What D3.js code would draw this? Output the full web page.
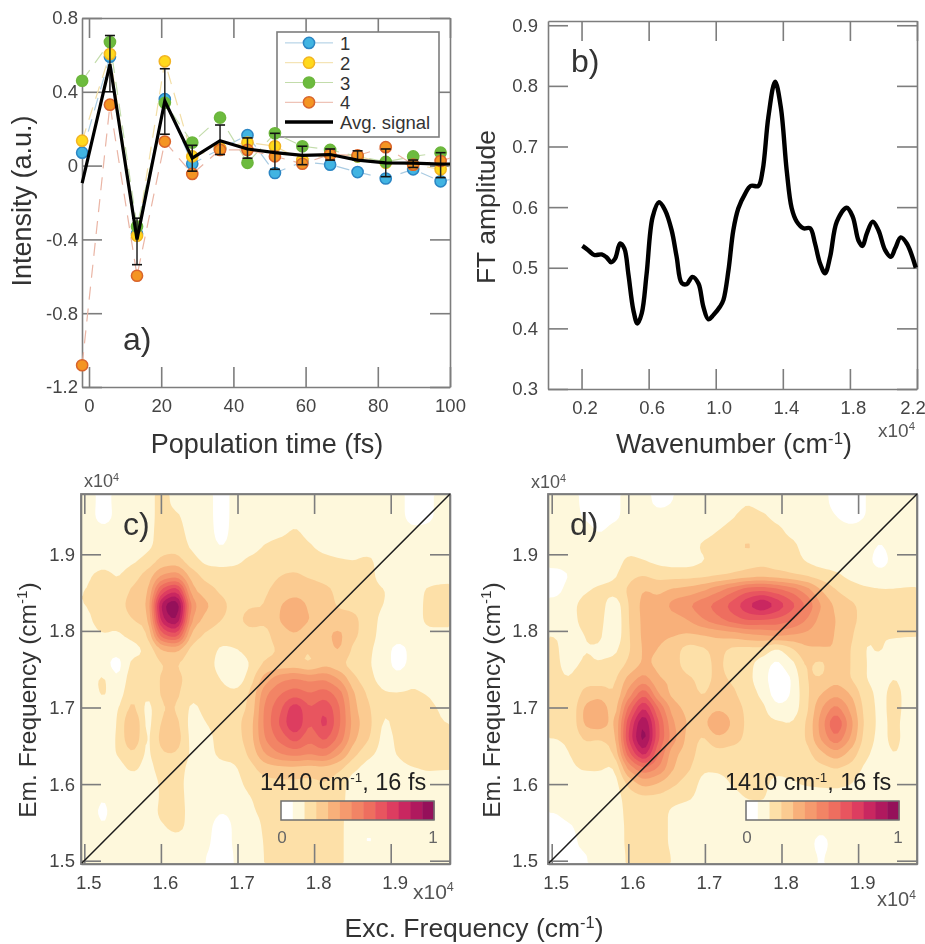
<!DOCTYPE html>
<html>
<head>
<meta charset="utf-8">
<script src="https://cdn.jsdelivr.net/npm/d3@7"></script>
<style>
html, body { margin: 0; padding: 0; background: #fff; }
svg { display: block; filter: blur(0.5px); }
text { font-family: "Liberation Sans", Arial, sans-serif; fill: #333; }
.tick text { fill: #444; }
.axis line, .axis path { stroke: #7d7d7d; stroke-width: 1.6; }
</style>
</head>
<body>
<svg id="chart" width="925" height="944"></svg>
<script>
// panel a
var timeFs = [-1.9, 5.8, 13.3, 21, 28.6, 36.3, 43.9, 51.5, 59.1, 66.8, 74.4, 82.2, 89.8, 97.4, 105];
var series1 = [0.07, 0.59, -0.37, 0.36, 0.01, 0.09, 0.165, -0.04, 0.02, 0.005, -0.035, -0.07, -0.02, -0.085, -0.06];
var series2 = [0.135, 0.605, -0.38, 0.565, 0.05, 0.095, 0.125, 0.105, 0.03, 0.06, 0.05, 0.015, 0.005, -0.02, 0.02];
var series3 = [0.46, 0.67, -0.33, 0.34, 0.125, 0.26, 0.015, 0.175, 0.105, 0.085, 0.05, 0.02, 0.05, 0.07, 0.08];
var series4 = [-1.082, 0.33, -0.597, 0.13, -0.045, 0.085, 0.085, 0.05, 0.01, 0.06, 0.055, 0.1, 0.005, 0.025, 0.07];
var avgSignal = [-0.095, 0.55, -0.4, 0.35, 0.04, 0.135, 0.09, 0.07, 0.055, 0.06, 0.03, 0.015, 0.013, 0.008, 0.01];
var errTop = [null, 0.705, -0.285, 0.525, 0.11, 0.22, 0.15, 0.175, 0.105, 0.09, 0.08, 0.09, 0.03, 0.07, null];
var errBottom = [null, 0.4, -0.537, 0.17, -0.03, 0.06, 0.04, -0.02, 0.005, 0.03, 0.03, -0.06, -0.01, -0.065, null];
var seriesNames = ["1", "2", "3", "4"];

// panel b
var waveX = [0.205, 0.24, 0.276, 0.32, 0.35, 0.376, 0.4, 0.43, 0.455, 0.479, 0.509, 0.533, 0.559, 0.588, 0.624, 0.662, 0.698, 0.737, 0.767, 0.797, 0.827, 0.861, 0.897, 0.926, 0.956, 0.986, 1.026, 1.046, 1.076, 1.105, 1.135, 1.175, 1.209, 1.254, 1.28, 1.314, 1.354, 1.388, 1.423, 1.453, 1.483, 1.523, 1.563, 1.592, 1.622, 1.652, 1.682, 1.722, 1.781, 1.817, 1.851, 1.875, 1.9, 1.936, 1.97, 2.01, 2.044, 2.07, 2.103, 2.139, 2.193];
var ftAmp = [0.536, 0.529, 0.521, 0.522, 0.517, 0.509, 0.515, 0.54, 0.532, 0.49, 0.43, 0.408, 0.425, 0.49, 0.584, 0.608, 0.595, 0.562, 0.518, 0.475, 0.473, 0.485, 0.474, 0.436, 0.415, 0.422, 0.436, 0.447, 0.496, 0.562, 0.598, 0.622, 0.635, 0.635, 0.661, 0.749, 0.807, 0.765, 0.661, 0.598, 0.576, 0.565, 0.565, 0.54, 0.507, 0.491, 0.518, 0.576, 0.599, 0.584, 0.545, 0.536, 0.556, 0.576, 0.562, 0.529, 0.518, 0.532, 0.55, 0.54, 0.5];

// panels c and d, contour level per cell (0-12 along the colour bar), top row first
var mapC = [
[1.5,.5,1.4,1.4,1.5,2.5,1.5,1.4,1.4,.5,1.4,1.4,1.4,1.4,1.4,1.4,1.4,1.4,1.4,1.4,1.4,1.3,.6,.8,1.3],
[1.4,.5,1.3,1.4,1.5,2.5,2.2,1.4,1.4,.5,1.4,1.4,1.4,1.4,1.4,1.4,1.4,1.4,1.4,1.4,1.4,1.3,.6,.8,1.3],
[1.4,1.3,1.4,1.4,1.6,2.5,2.4,1.6,1.4,.6,1.4,1.4,1.4,1.6,2.2,1.5,1.4,1.4,1.4,1.4,1.4,1.4,1.2,1.2,1.3],
[1.4,1.4,1.4,1.4,1.7,2.5,2.6,1.8,1.4,.9,1.4,1.6,2.1,2.5,2.7,2.1,1.6,1.4,1.4,1.4,1.4,1.4,1.4,1.4,1.4],
[1.4,1.5,1.4,1.8,2.3,3.3,3.4,2.3,1.7,1.6,1.8,2.2,2.4,2.7,2.7,2.5,2.3,2.1,2,2.3,1.4,1.4,1.4,1.4,1.4],
[1.9,2.4,1.9,2.6,3.4,5,5.5,3.5,2.6,2.5,2.4,2.6,2.7,3,3.1,2.9,2.7,2.7,2.5,2.4,1.4,1.4,1.4,1.4,1.6],
[2,2.5,2.2,3.2,3.6,8.5,10,4.2,3.4,2.8,2.6,2.6,2.9,3.3,3.5,3.4,3.2,2.8,2.6,2.4,2.1,1.4,1.4,2.2,2.3],
[2,2.4,2.4,3.7,3.8,12,13.5,5.5,4.2,3.3,2.6,2.9,3,4,4.7,3.8,3.5,2.8,2.8,2.5,2,1.5,1.4,2.3,2.4],
[1.9,2.3,2.2,3,3.4,11,12.5,4.8,3.6,3,2.7,3.5,3.1,4.1,4.7,4,3.6,3.5,3.2,2.6,1.6,1.8,1.4,2.3,2.3],
[1.8,2,1.9,2.3,2.8,8,9,3.5,2.8,2.5,2.4,2.6,2.7,3.6,4,3.4,3.8,4.3,3.2,2.5,1.5,1.5,1.4,1.7,1.7],
[1.5,1.4,1.3,1.6,2.2,4,4.2,2.6,2.5,1.8,2,2.6,2.7,3.1,3.1,3,3.6,4.2,2.7,2.2,1.4,.6,1.3,1.4,1.4],
[1.4,1.3,.5,2.4,2,3,3,2.3,2.4,1.6,.7,2.1,3.2,3.2,3.3,2.8,3.7,3.2,2.4,2.1,1.4,.6,1.3,1.5,1.4],
[1.5,2.3,.9,2.8,2.1,3.2,3.4,2.4,2.4,2,1.2,2.6,4.6,5.8,6.2,5.8,6,5,3.2,2.3,1.5,1.3,1.9,1.5,1.4],
[1.5,2.2,1.4,3,2,3.2,3.2,2.2,2.5,2.3,2.3,3.1,5.9,7,7.6,7,7.6,6.6,4,2.8,2.1,2.1,2.1,2,1.6],
[1.4,1.5,1.9,3.4,1.5,3,3,1.7,2.3,2.6,2.6,3.2,6.4,7.8,10,8,9,7.2,4.2,3.1,2.1,2.1,2.2,2.2,1.9],
[1.3,1.3,2,4.4,1.5,3.2,3.3,1.5,2,2.6,2.7,3.6,6.4,8.2,10.4,7.8,9.6,7.2,4.5,3.3,1.8,2.3,2.5,2.3,2],
[1.3,1.3,2.1,4.2,1.6,3.5,3.6,1.6,1.5,2.6,2.6,3.6,6.2,7.4,8.6,7.2,8.4,6.8,4.2,3.1,1.6,2.2,2.5,2.4,2.1],
[1.2,1.4,2.1,3,1.7,3,3,1.8,1.6,2.3,2.3,3.3,5.2,6.2,6.6,6.2,6.7,5.2,3.3,2.3,1.6,2.1,2.4,2.3,2.2],
[1.3,1.4,1.6,2.3,1.6,2.5,2.5,1.6,1.6,1.7,1.9,2.7,3.5,3.7,3.7,3.6,3.7,3.2,2.2,1.5,1.4,1.8,2,2.1,2.1],
[1.3,.9,1.3,1.4,1.4,2.2,2.4,1.5,1.4,1.3,1.7,2.4,2.7,2.8,2.8,2.7,3,2.5,1.4,1.4,1.3,1.4,1.4,1.7,1.5],
[1.3,1,1.3,1.4,1.3,2.2,2.4,1.6,1.4,1.4,1.4,2,2.3,2.5,2.7,2.5,2.6,2.4,1.4,1.4,1.3,1.3,1.4,1.4,1.3],
[1.3,.8,1.4,1.4,1.4,2.3,2.5,1.6,1.4,1,1.2,1.9,2.2,2.4,2.7,2.5,2.6,2.3,1.4,1.2,1.4,1.4,1.4,1.3,1.3],
[1.4,1,1.4,1.4,1.4,1.9,2.4,1.6,1.3,.5,1.2,1.5,2.2,2.3,2.4,2.4,2.5,2.3,1.3,1,1.3,1.4,1.4,1.3,1.3],
[1.4,1.3,1.4,1.4,1.4,1.4,1.5,1.4,1.2,.5,1.2,1.5,2.1,2.3,2.4,2.4,2.4,2.3,1.3,.9,1.3,1.4,1.4,1.3,1.3],
[1.4,1.3,1.4,1.3,1.4,1.4,1.4,1.3,1,.5,1.1,1.3,2.1,2.3,2.4,2.4,2.4,2.3,1.3,1.2,1.2,1.3,1.3,1.3,1.3]
];
var mapD = [
[1.3,1.3,.8,.6,.8,1.3,1.3,.7,1,1.3,1.4,1.4,1.4,1.9,1.5,1.4,1.4,1.4,1.3,.7,.6,1,1.3,1.3,1.3],
[1.3,1.3,.9,.6,.8,1.3,1.4,1.3,1.3,1.4,1.4,1.5,1.9,2.5,2.2,1.7,1.4,1.4,1.4,1,.6,1,1.3,1.3,1.3],
[1.3,1.3,1.3,.9,1.3,1.4,1.4,1.4,1.4,1.4,1.6,2,2.4,2.6,2.5,2.3,1.7,1.4,1.4,1.4,1.3,1.3,1.3,1.3,1.3],
[1.3,1.3,1.4,1.4,1.4,1.5,1.4,1.4,1.4,1.5,2.2,2.5,2.7,3.2,2.7,2.5,2.3,1.6,1.4,1.4,1.3,1.3,.9,1.3,1.3],
[1.3,1.3,1.4,1.4,1.5,2.3,2,1.7,1.5,1.5,1.9,2.3,2.5,2.6,2.7,2.5,2.4,1.9,1.5,1.4,1.3,1.2,.7,1.2,1.2],
[.7,1,1.4,1.6,1.8,2.8,3,2.6,2.6,2.6,2.7,2.8,3,3.3,3.5,3.3,3,2.8,2.5,2.2,1.7,1.4,1.2,1.3,1.3],
[.7,1.3,1.9,2.2,2.4,3.2,4.1,3.8,4.2,4.4,4.9,5.8,6.8,7.8,8,7.5,6.8,5.6,4,3,2.5,2.2,2.1,2.1,2.2],
[1.3,1.7,2.4,2.5,1.2,3.1,4.4,4.3,5.5,6,6.8,7.5,8.5,10,11.4,10,8.5,7,5,3.8,3.2,2.7,2.4,2.3,2.3],
[1.6,1.8,2.2,2.4,1,3.1,4.3,4.3,4.5,5,6,6.8,7.6,8.2,8,7.8,7.2,6,4.6,4,3.4,2.5,2.2,2.4,2.2],
[2,1.8,2,2.2,1.1,3,4.3,4.2,4.1,3.9,4,4.2,4.4,4.8,5,5.4,5,4.8,4.2,4,3.2,2.1,2,2.1,2.1],
[2.1,1.7,2,1.9,1.7,2.9,4.2,4,3.4,2.5,2.8,3.3,2.7,2.6,2.7,1.6,2.8,3.8,4,4,3,1.9,2.1,1.7,1.5],
[2.1,1.8,2.1,2,2.3,3.2,4.2,3.7,3.5,2.3,2.7,3.2,2.6,2.4,1.4,.7,1.6,3.2,2.6,3.9,3,2,1.7,1.4,1.4],
[2.1,2,2.6,2.5,2.8,4.4,5.5,4,3.9,3.2,2.7,3.2,2.9,2.3,1.4,.3,.9,3.1,3,3.7,3,2,1.6,2.1,1.4],
[2.4,2,3.4,3.6,2.9,5.5,8,4.8,3.6,3.3,2.9,3.4,3.2,2.5,1.8,.4,1,2.8,4,4.8,4,2.4,1.7,2.4,1.5],
[2.4,2.1,4.3,5,3.2,7.5,10.5,7,4.4,3.7,3.3,3.8,3.5,2.8,2.3,1.2,1.3,2.7,5,6.5,4.8,2.6,1.7,2.4,1.5],
[2.2,2.1,4.3,4.7,3.6,9,12.5,8,5,3.9,3.5,5.6,3.8,2.8,2.3,2.2,2,3,5.4,8.4,5.4,2.7,1.7,2.3,1.4],
[2,2.1,3.2,3,3.4,9.5,13,8,5.4,3.6,2.8,3.8,3.4,2.8,2.3,2.3,2.3,3,5.2,7,5,2.5,1.7,2.3,1.5],
[1.8,2,2.4,2.4,3,8,11,7,4.2,3.6,2.4,2.7,2.6,2.6,2.4,2.4,2.4,2.6,3.8,4.8,3.7,2.2,1.6,2.1,1.5],
[1.7,1.9,2.1,2.1,1.8,5.5,7,6,4,3.2,2.1,2.2,2.4,2.4,2.4,2.3,2.4,2.4,2.7,3,2.7,1.8,1.4,1.4,1.4],
[1.8,1.8,1.6,1.7,1.5,3.4,4.5,4,3.2,2.6,1.7,1.6,2.1,2.4,2.3,1.7,1.9,2.2,2.3,2.4,2.1,1.4,1.4,1.4,1.4],
[1.4,1.4,1.4,1.4,1.5,2.5,2.8,2.7,2.4,2.2,1.6,1.4,1.7,2.1,2.2,1.4,1.4,1.4,1.4,1.4,1.4,1.4,1.4,1.4,1.4],
[1,1.3,1.4,1.4,1.4,2.4,2.5,2.5,1.7,1.4,1.4,1.4,1.4,1.4,1.4,1.4,1.4,1.4,1.4,1.4,1.4,1.4,1.4,1.4,1.4],
[.7,.9,1.3,1.4,1.4,2.3,2.5,2.5,1.7,1.3,1.4,1.4,1.4,1.4,1.4,1.4,1.4,1.4,1.2,1.4,1.4,1.4,1.4,1.3,1.3],
[.7,.8,1.2,1.4,1.4,2.3,2.5,2.5,1.7,1.4,1.4,1.4,1.4,1.4,1.4,1.4,1.4,1.3,.7,1.3,1.4,1.4,1.4,1.3,1.3],
[.8,.9,.9,1.4,1.4,2.2,2.5,2.5,1.9,1.4,1.4,1.4,1.4,1.4,1.4,1.4,1.4,1.3,.9,1.3,1.4,1.3,1.3,1.3,1.3]
];
var levelColors = ["#ffffff", "#fef8dc", "#fde0a8", "#fbcb91", "#f8b07a", "#f59a6e", "#f28465", "#ee6e5f", "#e8555f", "#dd3d60", "#c92760", "#b0195e", "#95105a"];

var svg = d3.select("#chart");

function addText(parent, str, x, y, size, anchor, rotate) {
    var t = parent.append("text")
        .attr("x", x)
        .attr("y", y)
        .attr("font-size", size)
        .attr("text-anchor", anchor || "start")
        .text(str);
    if (rotate) t.attr("transform", "rotate(-90 " + x + " " + y + ")");
    return t;
}

// "... (cm-1)" with a raised -1
function addCmLabel(parent, before, after, x, y, size, rotate) {
    var t = addText(parent, before, x, y, size, "middle", rotate);
    t.append("tspan").attr("dy", -size * 0.35).attr("font-size", size * 0.62).text("-1");
    t.append("tspan").attr("dy", size * 0.35).text(after);
    return t;
}

function addX104(parent, x, y, size) {
    var t = addText(parent, "x10", x, y, size);
    t.style("fill", "#555");
    t.append("tspan").attr("dy", -size * 0.36).attr("font-size", size * 0.6).text("4");
}

// hyphen instead of d3's long minus
function plainFormat(spec) {
    var f = d3.format(spec);
    return function (d) { return f(d).replace("\u2212", "-"); };
}

// inward ticks on all four sides, labels only left and bottom
function drawFrame(g, xScale, yScale, xTicks, yTicks, xFmt, yFmt, xShift, yGap) {
    var r = xScale.range(), b = yScale.range();
    var tickLen = 20;

    var bottom = g.append("g").attr("class", "axis").attr("transform", "translate(0," + b[0] + ")")
        .call(d3.axisBottom(xScale).tickValues(xTicks).tickSize(-tickLen).tickSizeOuter(0).tickFormat(xFmt));
    bottom.selectAll("text").attr("y", 12).attr("dy", "0.71em").attr("dx", xShift).attr("font-size", 18.5);

    g.append("g").attr("class", "axis").attr("transform", "translate(0," + b[1] + ")")
        .call(d3.axisTop(xScale).tickValues(xTicks).tickSize(-tickLen).tickSizeOuter(0).tickFormat(""));

    var left = g.append("g").attr("class", "axis").attr("transform", "translate(" + r[0] + ",0)")
        .call(d3.axisLeft(yScale).tickValues(yTicks).tickSize(-tickLen).tickSizeOuter(0).tickFormat(yFmt));
    left.selectAll("text").attr("x", -yGap).attr("font-size", 18.5);

    g.append("g").attr("class", "axis").attr("transform", "translate(" + r[1] + ",0)")
        .call(d3.axisRight(yScale).tickValues(yTicks).tickSize(-tickLen).tickSizeOuter(0).tickFormat(""));
}

/* ---------- panel a ---------- */
var gA = svg.append("g");
var xA = d3.scaleLinear().domain([-1.94, 100]).range([82, 450]);
var yA = d3.scaleLinear().domain([-1.2, 0.8]).range([387, 18]);

drawFrame(gA, xA, yA, d3.range(0, 101, 20), [-1.2, -0.8, -0.4, 0, 0.4, 0.8],
    d3.format("d"), function (d) { return d === 0 ? "0" : plainFormat(".1f")(d); }, 0, 4);

addText(gA, "a)", 123, 350, 32);
addText(gA, "Population time (fs)", 267, 453, 27, "middle");
addText(gA, "Intensity (a.u.)", 31, 201, 27, "middle", true);

var seriesStyles = [
    {values: series1, line: "#a9cbe2", fill: "#41b4e2", stroke: "#2b86c4"},
    {values: series2, line: "#f2dea6", fill: "#ffd91c", stroke: "#f2b422"},
    {values: series3, line: "#c3dcab", fill: "#6cbb3e", stroke: "#6cb63c"},
    {values: series4, line: "#eab5a5", fill: "#f49522", stroke: "#d9642b"}
];

// legend sits under the markers
var legendY = d3.scaleBand().domain(seriesNames.concat(["Avg. signal"])).range([33, 132]);
var legend = gA.append("g");
legend.append("rect").attr("x", 277).attr("y", 32).attr("width", 162).attr("height", 105)
    .attr("fill", "#fff").attr("stroke", "#7d7d7d").attr("stroke-width", 1.6);
seriesNames.forEach(function (name, i) {
    var s = seriesStyles[i], cy = legendY(name) + legendY.bandwidth() / 2;
    legend.append("line").attr("x1", 285).attr("x2", 333).attr("y1", cy).attr("y2", cy).attr("stroke", s.line);
    legend.append("circle").attr("cx", 309).attr("cy", cy).attr("r", 5.6)
        .attr("fill", s.fill).attr("stroke", s.stroke).attr("stroke-width", 1.5);
    addText(legend, name, 340, cy + 7, 18.5);
});
var avgCy = legendY("Avg. signal") + legendY.bandwidth() / 2;
legend.append("line").attr("x1", 285).attr("x2", 333).attr("y1", avgCy).attr("y2", avgCy)
    .attr("stroke", "#000").attr("stroke-width", 3.5);
addText(legend, "Avg. signal", 340, avgCy + 7, 18.5);

svg.append("clipPath").attr("id", "clipA").append("rect")
    .attr("x", 70).attr("y", 10).attr("width", 380).attr("height", 380);
var dataA = gA.append("g").attr("clip-path", "url(#clipA)");

var lineA = d3.line()
    .x(function (d, i) { return xA(timeFs[i]); })
    .y(function (d) { return yA(d); });

seriesStyles.forEach(function (s) {
    dataA.append("path").datum(s.values)
        .attr("fill", "none")
        .attr("stroke", s.line)
        .attr("stroke-width", 1.2)
        .attr("stroke-dasharray", "13,9")
        .attr("d", lineA);
});
seriesStyles.forEach(function (s) {
    dataA.selectAll(null).data(s.values).enter().append("circle")
        .attr("cx", function (d, i) { return xA(timeFs[i]); })
        .attr("cy", function (d) { return yA(d); })
        .attr("r", 5.6)
        .attr("fill", s.fill)
        .attr("stroke", s.stroke)
        .attr("stroke-width", 1.5);
});

// error bars
timeFs.forEach(function (t, i) {
    if (errTop[i] === null) return;
    var px = xA(t);
    dataA.append("line").attr("x1", px).attr("x2", px).attr("y1", yA(errTop[i])).attr("y2", yA(errBottom[i]))
        .attr("stroke", "#222").attr("stroke-width", 1.5);
    [errTop[i], errBottom[i]].forEach(function (v) {
        dataA.append("line").attr("x1", px - 5).attr("x2", px + 5).attr("y1", yA(v)).attr("y2", yA(v))
            .attr("stroke", "#111").attr("stroke-width", 1.6);
    });
});

dataA.append("path").datum(avgSignal)
    .attr("fill", "none")
    .attr("stroke", "#000")
    .attr("stroke-width", 3.2)
    .attr("d", lineA);

/* ---------- panel b ---------- */
var gB = svg.append("g");
var xB = d3.scaleLinear().domain([0, 2.2]).range([548, 917]);
var yB = d3.scaleLinear().domain([0.3, 0.907]).range([389, 21]);

drawFrame(gB, xB, yB, [0.2, 0.6, 1.0, 1.4, 1.8, 2.2], [0.3, 0.4, 0.5, 0.6, 0.7, 0.8, 0.9],
    d3.format(".1f"), d3.format(".1f"), 3, 10);
// the last label runs up against the page edge
gB.selectAll(".tick text").filter(function (d) { return d === 2.2; }).attr("dx", -4.5);

var lineB = d3.line()
    .x(function (d, i) { return xB(waveX[i]); })
    .y(function (d) { return yB(d); })
    .curve(d3.curveCatmullRom);

gB.append("path").datum(ftAmp)
    .attr("fill", "none")
    .attr("stroke", "#000")
    .attr("stroke-width", 4.4)
    .attr("d", lineB);

addText(gB, "b)", 571, 72, 32);
addCmLabel(gB, "Wavenumber (cm", ")", 734, 453, 27);
addText(gB, "FT amplitude", 495, 207, 26.5, "middle", true);
addX104(gB, 878, 437, 19);

/* ---------- panels c and d ---------- */
var SMOOTH = 4;

// repeat each read cell and let d3.blur2 round the contour shapes
function smoothGrid(grid) {
    var rows = grid.length, cols = grid[0].length, out = [];
    for (var j = 0; j < rows * SMOOTH; j++) {
        for (var i = 0; i < cols * SMOOTH; i++) {
            out.push(grid[Math.floor(j / SMOOTH)][Math.floor(i / SMOOTH)]);
        }
    }
    return d3.blur2({data: out, width: cols * SMOOTH, height: rows * SMOOTH}, 1).data;
}

function drawMap(grid, name, frame) {
    var g = svg.append("g");
    var rows = grid.length, cols = grid[0].length;
    var per01 = 76.6;
    var xScale = d3.scaleLinear()
        .domain([1.5 - (frame.tick15 - frame.left) / per01 * 0.1, 1.5 + (frame.right - frame.tick15) / per01 * 0.1])
        .range([frame.left, frame.right]);
    var yScale = d3.scaleLinear()
        .domain([1.5 - (frame.bottom - 860.7) / per01 * 0.1, 1.5 + (860.7 - frame.top) / per01 * 0.1])
        .range([frame.bottom, frame.top]);

    var cellX = d3.scaleLinear().domain([0, cols * SMOOTH]).range([frame.left, frame.right]);
    var cellY = d3.scaleLinear().domain([0, rows * SMOOTH]).range([frame.top, frame.bottom]);

    var contours = d3.contours()
        .size([cols * SMOOTH, rows * SMOOTH])
        .thresholds(d3.range(1, levelColors.length))(smoothGrid(grid));

    var ringLine = d3.line()
        .x(function (d) { return cellX(d[0]); })
        .y(function (d) { return cellY(d[1]); });

    g.append("g")
        .selectAll("path").data(contours).enter().append("path")
        .attr("fill-rule", "evenodd")
        .attr("fill", function (d) { return levelColors[d.value]; })
        .attr("d", function (d) {
            var parts = [];
            d.coordinates.forEach(function (poly) {
                poly.forEach(function (ring) {
                    parts.push(ringLine(ring) + "Z");
                });
            });
            return parts.join("");
        });

    drawFrame(g, xScale, yScale, [1.5, 1.6, 1.7, 1.8, 1.9], [1.5, 1.6, 1.7, 1.8, 1.9],
        d3.format(".1f"), d3.format(".1f"), 4, frame.yGap);
    g.append("rect").attr("x", frame.left).attr("y", frame.top)
        .attr("width", frame.right - frame.left).attr("height", frame.bottom - frame.top)
        .attr("fill", "none").attr("stroke", "#7d7d7d").attr("stroke-width", 1.8);

    // diagonal
    g.append("line")
        .attr("x1", frame.left + 1).attr("y1", frame.bottom - 1)
        .attr("x2", frame.right).attr("y2", frame.top)
        .attr("stroke", "#1c1c1c").attr("stroke-width", 1.5);

    addText(g, name + ")", frame.labelX, 535, 32);
    addX104(g, frame.labelX - 39, frame.x104TopY, 18);
    addX104(g, frame.x104RightX, frame.x104RightY, frame.x104RightSize);
    addCmLabel(g, "Em. Frequency (cm", ")", frame.yTitleX, 700, 24.5, true);

    // small colour bar
    var barX = d3.scaleBand().domain(d3.range(levelColors.length)).range([frame.barX, frame.barX + 153]);
    g.selectAll(".cell").data(levelColors).enter().append("rect")
        .attr("x", function (d, i) { return barX(i); })
        .attr("y", 801)
        .attr("width", barX.bandwidth() + 0.5)
        .attr("height", 19)
        .attr("fill", function (d) { return d; });
    g.append("rect").attr("x", frame.barX).attr("y", 801).attr("width", 153).attr("height", 19)
        .attr("fill", "none").attr("stroke", "#6f6f6f").attr("stroke-width", 1.5);

    var bg = addText(g, "1410 cm", frame.barX - 21, 790, 23.5);
    bg.style("fill", "#1f1f1f");
    bg.append("tspan").attr("dy", -8).attr("font-size", 13.5).text("-1");
    bg.append("tspan").attr("dy", 8).text(", 16 fs");

    addText(g, "0", frame.barX + 1, 843, 17, "middle").style("fill", "#666");
    addText(g, "1", frame.barX + 152, 843, 17, "middle").style("fill", "#666");
}

drawMap(mapC, "c", {left: 81, right: 450, top: 494, bottom: 864, tick15: 84.3, yGap: 6,
    labelX: 123, x104TopY: 487, x104RightX: 413, x104RightY: 899, x104RightSize: 21, yTitleX: 36, barX: 281});
drawMap(mapD, "d", {left: 548, right: 917, top: 494, bottom: 864, tick15: 551.7, yGap: 10,
    labelX: 570, x104TopY: 488, x104RightX: 877, x104RightY: 906, x104RightSize: 20, yTitleX: 500, barX: 746});

addCmLabel(svg, "Exc. Frequency (cm", ")", 474, 937, 26.5);
</script>
</body>
</html>
